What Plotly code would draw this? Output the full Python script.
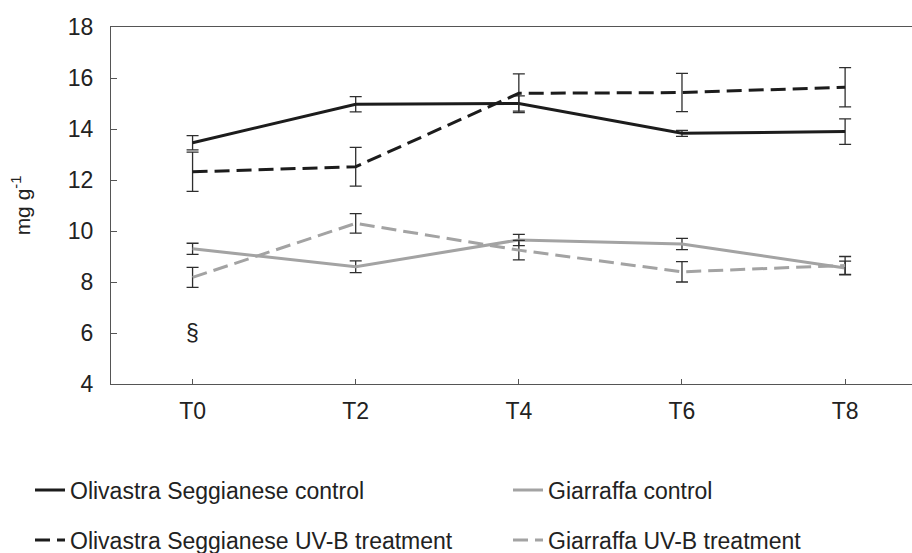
import plotly.graph_objects as go

categories = ["T0", "T2", "T4", "T6", "T8"]

olivastra_control = [13.46, 14.97, 15.00, 13.83, 13.90]
olivastra_control_err = [0.28, 0.30, 0.30, 0.12, 0.50]

olivastra_uvb = [12.32, 12.52, 15.40, 15.43, 15.64]
olivastra_uvb_err = [0.77, 0.76, 0.76, 0.75, 0.77]

giarraffa_control = [9.30, 8.60, 9.65, 9.49, 8.55]
giarraffa_control_err = [0.22, 0.23, 0.22, 0.22, 0.27]

giarraffa_uvb = [8.18, 10.30, 9.25, 8.40, 8.65]
giarraffa_uvb_err = [0.39, 0.38, 0.38, 0.40, 0.35]

y_ticks = [4, 6, 8, 10, 12, 14, 16, 18]

BLACK = "#1c1c1c"
GRAY = "#a3a3a3"
ERR = "#2e2e2e"
FONT = "Liberation Sans, Arial, sans-serif"
TXT = "#222222"

fig = go.Figure()

def add(name, y, err, color, dash, legend):
    fig.add_trace(go.Scatter(
        x=categories, y=y, name=name, mode="lines",
        line=dict(color=color, width=3, dash=dash),
        error_y=dict(type="data", array=err, visible=True,
                     color=ERR, thickness=1.3, width=6),
        legend=legend,
    ))

add("Olivastra Seggianese control", olivastra_control, olivastra_control_err, BLACK, "solid", "legend")
add("Giarraffa control", giarraffa_control, giarraffa_control_err, GRAY, "solid", "legend2")
add("Olivastra Seggianese UV-B treatment", olivastra_uvb, olivastra_uvb_err, BLACK, "15px,7px", "legend3")
add("Giarraffa UV-B treatment", giarraffa_uvb, giarraffa_uvb_err, GRAY, "15px,7px", "legend4")

fig.add_annotation(x="T0", y=6, text="§", showarrow=False,
                   font=dict(family=FONT, size=23, color=TXT))

def leg(xpx, ypx):
    return dict(
        orientation="h", xref="container", yref="container",
        x=xpx / 912, y=1 - ypx / 553,
        xanchor="left", yanchor="middle",
        font=dict(family=FONT, size=23, color=TXT),
        bgcolor="rgba(0,0,0,0)", borderwidth=0, itemwidth=30,
    )

fig.update_layout(
    width=912, height=553,
    margin=dict(l=111, r=0, t=27, b=169, autoexpand=False),
    paper_bgcolor="white", plot_bgcolor="white",
    font=dict(family=FONT, size=23, color=TXT),
    showlegend=True,
    legend=leg(30, 490),
    legend2=leg(508, 490),
    legend3=leg(30, 540),
    legend4=leg(508, 540),
    xaxis=dict(
        type="category", categoryorder="array", categoryarray=categories,
        range=[-0.5, 4.41], automargin=False,
        showline=True, linecolor="#555555", linewidth=1.3, mirror=True,
        ticks="inside", ticklen=5, tickcolor="#555555", tickwidth=1.2,
        showgrid=False, zeroline=False,
        tickfont=dict(family=FONT, size=23, color=TXT),
        ticklabelstandoff=6,
    ),
    yaxis=dict(
        range=[4, 18], tickvals=y_ticks, automargin=False,
        showline=True, linecolor="#555555", linewidth=1.3, mirror=False,
        ticks="inside", ticklen=6, tickcolor="#555555", tickwidth=1.2,
        showgrid=False, zeroline=False,
        tickfont=dict(family=FONT, size=23, color=TXT),
        ticklabelstandoff=12,
        title=dict(text="mg g<sup>-1</sup>", font=dict(family=FONT, size=21, color=TXT),
                   standoff=31),
    ),
)

fig.write_html("out.html",
               config={"displayModeBar": False},
               post_script="document.body.style.margin='0';document.body.style.overflow='hidden';")
